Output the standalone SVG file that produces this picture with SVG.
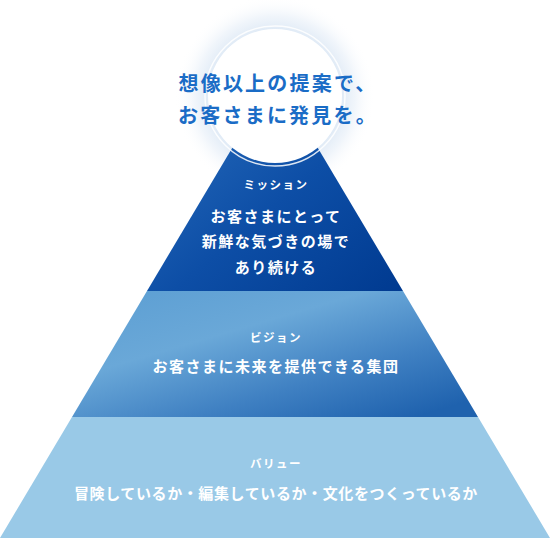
<svg xmlns="http://www.w3.org/2000/svg" width="550" height="538" viewBox="0 0 550 538">
<defs>
<linearGradient id="gMission" x1="0" y1="0" x2="1" y2="1">
<stop offset="0" stop-color="#2d72c0"/>
<stop offset="0.55" stop-color="#0d4ea6"/>
<stop offset="1" stop-color="#003a90"/>
</linearGradient>
<linearGradient id="gVision" x1="0.1" y1="0" x2="0.95" y2="0.9">
<stop offset="0" stop-color="#5d9fd3"/>
<stop offset="0.35" stop-color="#6aa8d8"/>
<stop offset="0.7" stop-color="#3f80c2"/>
<stop offset="1" stop-color="#1f62ae"/>
</linearGradient>
<radialGradient id="gGlow" cx="275" cy="96" r="100" gradientUnits="userSpaceOnUse">
<stop offset="0.62" stop-color="#d9e6f4" stop-opacity="1"/>
<stop offset="0.8" stop-color="#eaf1f9" stop-opacity="0.7"/>
<stop offset="1" stop-color="#ffffff" stop-opacity="0"/>
</radialGradient>
<style>
.jp{font-family:"Noto Sans CJK JP","Noto Sans",sans-serif;font-weight:700;text-anchor:middle}
.title{font-size:20px;letter-spacing:2.2px;fill:#1a6cc6}
.lab{font-size:11.5px;letter-spacing:1.5px;fill:#ffffff}
.main{font-size:15px;letter-spacing:1.5px;fill:#ffffff}
.val{font-size:15px;letter-spacing:0.6px;fill:#ffffff}
</style>
</defs>
<rect width="550" height="538" fill="#ffffff"/>
<circle id="glow" cx="275" cy="96" r="100" fill="url(#gGlow)"/>
<g id="value">
<polygon points="72,417 478,417 550,538 0,538" fill="#99c9e7"/>
<text class="jp lab" x="276" y="468">バリュー</text>
<text class="jp val" x="276" y="499">冒険しているか・編集しているか・文化をつくっているか</text>
</g>
<g id="vision">
<polygon points="147,291 403,291 478,417 72,417" fill="url(#gVision)"/>
<text class="jp lab" x="276" y="342">ビジョン</text>
<text class="jp main" x="276" y="372">お客さまに未来を提供できる集団</text>
</g>
<g id="mission">
<polygon points="275,76 403,291 147,291" fill="url(#gMission)"/>
<text class="jp lab" x="276" y="189">ミッション</text>
<text class="jp main" x="276" y="222">お客さまにとって</text>
<text class="jp main" x="276" y="247">新鮮な気づきの場で</text>
<text class="jp main" x="276" y="273">あり続ける</text>
</g>
<g id="title">
<circle cx="275" cy="96" r="70" fill="none" stroke="#ffffff" stroke-opacity="0.85" stroke-width="1.5"/>
<circle cx="275" cy="96" r="67" fill="#ffffff"/>
<text class="jp title" x="278" y="91">想像以上の提案で、</text>
<text class="jp title" x="278" y="123">お客さまに発見を。</text>
</g>
</svg>
